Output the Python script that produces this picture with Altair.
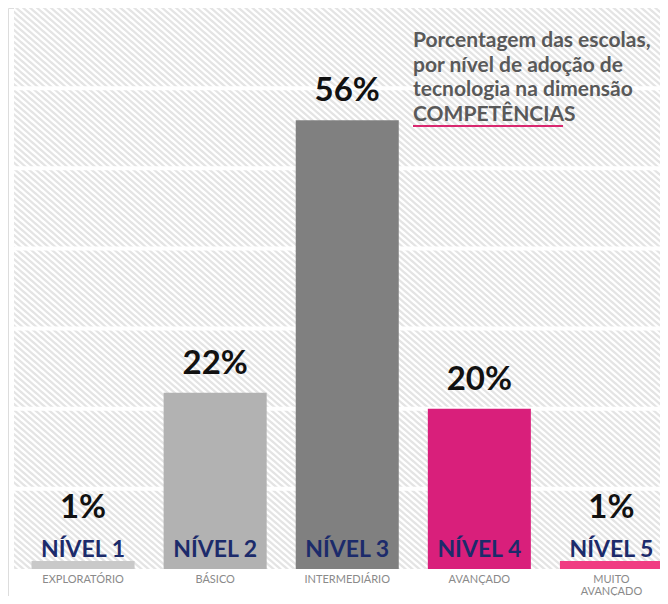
import altair as alt
import pandas as pd

# ---- data ----
levels = ["NÍVEL 1", "NÍVEL 2", "NÍVEL 3", "NÍVEL 4", "NÍVEL 5"]
categories = ["EXPLORATÓRIO", "BÁSICO", "INTERMEDIÁRIO", "AVANÇADO", "MUITO\nAVANÇADO"]
values = [1, 22, 56, 20, 1]
pct_labels = ["1%", "22%", "56%", "20%", "1%"]
bar_colors = ["#c9c9c9", "#b2b2b2", "#808080", "#d91f7b", "#f03d82"]
grid_values = [10, 20, 30, 40, 50, 60]
title_text = "Porcentagem das escolas,\npor nível de adoção de\ntecnologia na dimensão\nCOMPETÊNCIAS"

df = pd.DataFrame({"level": levels, "cat": categories, "pct": values, "label": pct_labels})
grid_df = pd.DataFrame({"g": grid_values})
bg_df = pd.DataFrame({"top": [70], "bottom": [0]})
title_df = pd.DataFrame({"t": [title_text]})

W, H = 652, 588
yscale = alt.Scale(domain=[0, 70], range=[561, 0], nice=False, zero=False)
xscale = alt.Scale(domain=levels, range=[9, 669.5], paddingInner=0.22, paddingOuter=0.11)

# diagonal hatch via repeated gradient stops
N = 186
stops = []
for k in range(N):
    o = k / N
    p = 1 / N
    stops.append(alt.GradientStop(offset=o, color="#ffffff"))
    stops.append(alt.GradientStop(offset=o + 0.2 * p, color="#e4e4e4"))
    stops.append(alt.GradientStop(offset=o + 0.5 * p, color="#e4e4e4"))
    stops.append(alt.GradientStop(offset=o + 0.7 * p, color="#ffffff"))
stops.append(alt.GradientStop(offset=1, color="#ffffff"))
hatch = alt.LinearGradient(gradient="linear", stops=stops, x1=0, y1=1, x2=1, y2=0)

background = alt.Chart(bg_df).mark_rect(fill=hatch).encode(
    y=alt.Y("top:Q", scale=yscale, axis=None),
    y2="bottom:Q",
    x=alt.value(6),
    x2=alt.value(W),
)

grid = alt.Chart(grid_df).mark_rule(color="white", strokeWidth=4).encode(
    y=alt.Y("g:Q", scale=yscale, axis=None),
    x=alt.value(6),
    x2=alt.value(W),
)

base = alt.Chart(df)

bars = base.mark_bar().encode(
    x=alt.X("level:N", scale=xscale, axis=None, sort=levels),
    y=alt.Y("pct:Q", scale=yscale, axis=None),
    color=alt.Color("level:N", scale=alt.Scale(domain=levels, range=bar_colors), legend=None),
)

pct_text = base.transform_calculate(ly="max(datum.pct, 4)").mark_text(
    font="Lato", fontSize=33, fontWeight="bold", color="#111111", baseline="alphabetic", dy=-19
).encode(
    x=alt.X("level:N", scale=xscale, axis=None, sort=levels),
    y=alt.Y("ly:Q", scale=yscale, axis=None),
    text="label:N",
)

level_text = base.transform_calculate(z="0").mark_text(
    font="Lato", fontSize=23, fontWeight="bold", color="#1c2b6b", baseline="alphabetic", dy=-12.5
).encode(
    x=alt.X("level:N", scale=xscale, axis=None, sort=levels),
    y=alt.Y("z:Q", scale=yscale, axis=None),
    text="level:N",
)

cat_text = base.transform_calculate(z="0").mark_text(
    font="Lato", fontSize=11, color="#8a8a8a", baseline="alphabetic", dy=13.5,
    lineBreak="\n", lineHeight=12.5
).encode(
    x=alt.X("level:N", scale=xscale, axis=None, sort=levels),
    y=alt.Y("z:Q", scale=yscale, axis=None),
    text="cat:N",
)

title = alt.Chart(title_df).mark_text(
    font="Lato", fontSize=21, fontWeight="bold", color="#595959", align="left",
    baseline="alphabetic", lineBreak="\n", lineHeight=24.5
).encode(
    x=alt.value(405), y=alt.value(39), text="t:N"
)

underline = alt.Chart(title_df).mark_rule(color="#d9286f", strokeWidth=2).encode(
    x=alt.value(405), x2=alt.value(555), y=alt.value(118)
)

chart = alt.layer(background, grid, bars, pct_text, level_text, cat_text, title, underline).properties(
    width=W, height=H, padding=0, autosize=alt.AutoSizeParams(type="none")
).configure_view(stroke=None).configure(background="white")

chart.save("out.html", embed_options={"renderer": "svg", "actions": False})
